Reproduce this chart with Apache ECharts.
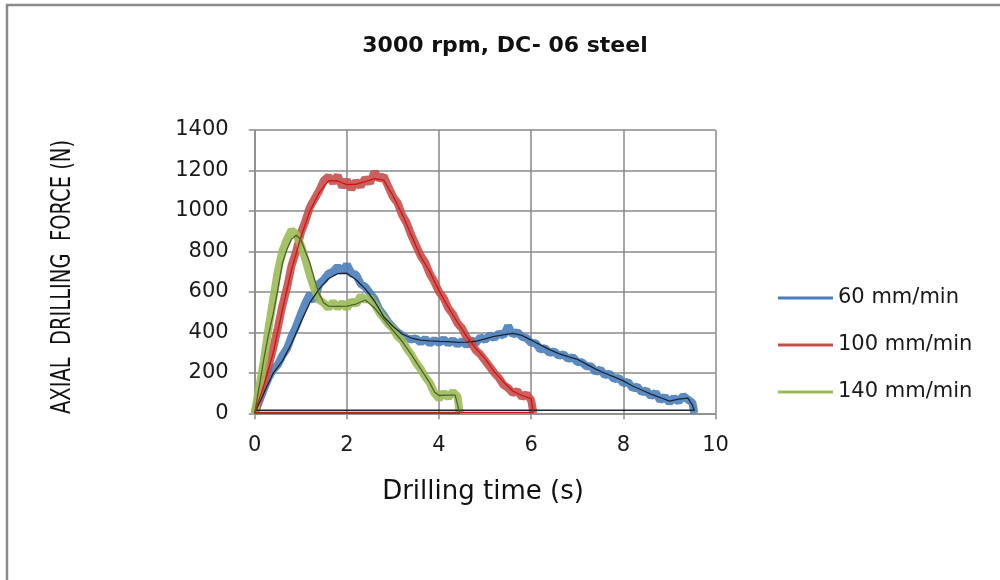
<!DOCTYPE html>
<html>
<head>
<meta charset="utf-8">
<script src="https://cdn.jsdelivr.net/npm/echarts@6/dist/echarts.min.js"></script>
<style>
  html, body { margin: 0; padding: 0; background: #fff; }
  #chart { width: 1000px; height: 580px; }
</style>
</head>
<body>
<div id="chart"></div>
<script>
// Axial drilling force vs. time, 3000 rpm, DC-06 steel, three feed rates.
const chartTitle = '3000 rpm, DC- 06 steel';
const xTitle = 'Drilling time (s)';
const yTitle = 'AXIAL  DRILLING  FORCE (N)';
const seriesNames = ['60 mm/min', '100 mm/min', '140 mm/min'];
const xTicks = [0, 2, 4, 6, 8, 10];
const yTicks = [0, 200, 400, 600, 800, 1000, 1200, 1400];

// Measured force signal [time s, force N]
const raw60 = [[0,0],[0.1,60],[0.2,120],[0.3,175],[0.4,215],[0.5,240],[0.6,285],[0.7,320],[0.8,380],[0.9,430],
  [1.0,490],[1.1,545],[1.2,590],[1.3,555],[1.4,640],[1.5,660],[1.6,690],[1.7,700],[1.8,725],[1.9,700],
  [2.0,735],[2.1,690],[2.2,685],[2.3,640],[2.4,625],[2.5,595],[2.6,565],[2.7,515],[2.8,485],[2.9,450],
  [3.0,425],[3.1,400],[3.2,385],[3.3,370],[3.4,365],[3.5,370],[3.6,350],[3.7,368],[3.8,345],[3.9,362],
  [4.0,348],[4.1,366],[4.2,344],[4.3,362],[4.4,340],[4.5,358],[4.6,336],[4.7,362],[4.8,348],[4.9,376],
  [5.0,362],[5.1,386],[5.2,372],[5.3,396],[5.4,384],[5.5,432],[5.6,388],[5.7,402],[5.8,378],[5.9,372],
  [6.0,348],[6.1,346],[6.2,314],[6.3,322],[6.4,298],[6.5,306],[6.6,284],[6.7,292],[6.8,268],[6.9,278],
  [7.0,254],[7.1,252],[7.2,232],[7.3,232],[7.4,204],[7.5,216],[7.6,188],[7.7,196],[7.8,168],[7.9,176],
  [8.0,148],[8.1,156],[8.2,124],[8.3,132],[8.4,104],[8.5,112],[8.6,84],[8.7,102],[8.8,64],[8.9,82],
  [9.0,54],[9.1,76],[9.2,58],[9.3,86],[9.4,68],[9.5,52],[9.54,0]];
const raw100 = [[0,0],[0.1,80],[0.2,150],[0.3,230],[0.4,320],[0.5,420],[0.6,530],[0.7,620],[0.8,730],[0.9,800],
  [1.0,890],[1.1,950],[1.2,1020],[1.3,1060],[1.4,1100],[1.5,1150],[1.6,1170],[1.7,1140],[1.8,1175],[1.9,1118],
  [2.0,1152],[2.1,1108],[2.2,1146],[2.3,1122],[2.4,1162],[2.5,1138],[2.6,1192],[2.7,1158],[2.8,1172],[2.9,1120],
  [3.0,1070],[3.1,1040],[3.2,980],[3.3,940],[3.4,880],[3.5,830],[3.6,780],[3.7,745],[3.8,690],[3.9,650],
  [4.0,600],[4.1,570],[4.2,520],[4.3,490],[4.4,445],[4.5,420],[4.6,375],[4.7,350],[4.8,310],[4.9,290],
  [5.0,260],[5.1,230],[5.2,200],[5.3,175],[5.4,140],[5.5,125],[5.6,100],[5.7,110],[5.8,80],[5.9,95],
  [6.0,65],[6.05,0]];
const raw140 = [[0,0],[0.1,130],[0.2,260],[0.3,420],[0.4,560],[0.5,700],[0.6,800],[0.7,860],[0.8,905],[0.9,885],
  [1.0,830],[1.1,760],[1.2,680],[1.3,610],[1.4,560],[1.5,545],[1.6,520],[1.7,550],[1.8,522],[1.9,546],
  [2.0,520],[2.1,556],[2.2,538],[2.3,580],[2.4,560],[2.5,572],[2.6,540],[2.7,500],[2.8,470],[2.9,440],
  [3.0,420],[3.1,380],[3.2,360],[3.3,320],[3.4,290],[3.5,250],[3.6,220],[3.7,180],[3.8,150],[3.9,100],
  [4.0,72],[4.1,102],[4.2,78],[4.3,106],[4.4,84],[4.45,0]];

// Moving-average trend of each signal; the last point returns to t = 0
const avg60 = [[0,0],[0.2,100],[0.4,198],[0.6,258],[0.8,345],[1.0,450],[1.2,548],[1.4,615],[1.6,665],[1.8,690],
  [2.0,692],[2.2,660],[2.4,615],[2.6,555],[2.8,477],[3.0,430],[3.2,392],[3.4,372],[3.6,362],[3.8,358],
  [4.0,355],[4.2,354],[4.4,350],[4.6,352],[4.8,356],[5.0,368],[5.2,380],[5.4,388],[5.6,395],[5.8,385],
  [6.0,362],[6.2,338],[6.4,315],[6.6,295],[6.8,280],[7.0,267],[7.2,243],[7.4,218],[7.6,198],[7.8,180],
  [8.0,160],[8.2,135],[8.4,115],[8.6,95],[8.8,78],[9.0,60],[9.2,70],[9.4,75],[9.5,40],[9.54,15],[0,15]];
const avg100 = [[0,0],[0.2,140],[0.4,296],[0.6,510],[0.8,710],[1.0,870],[1.2,1000],[1.4,1090],[1.6,1150],[1.8,1148],
  [2.0,1130],[2.2,1132],[2.4,1145],[2.6,1160],[2.8,1152],[3.0,1075],[3.2,985],[3.4,880],[3.6,775],[3.8,700],
  [4.0,605],[4.2,525],[4.4,450],[4.6,380],[4.8,320],[5.0,270],[5.2,205],[5.4,155],[5.6,110],[5.8,88],
  [6.0,72],[6.05,5],[0,5]];
const avg140 = [[0,0],[0.2,270],[0.3,390],[0.4,490],[0.5,610],[0.6,740],[0.7,810],[0.8,860],[0.9,880],[1.0,860],
  [1.1,800],[1.2,740],[1.3,660],[1.4,590],[1.5,545],[1.6,530],[1.8,528],[2.0,530],[2.2,540],[2.4,560],
  [2.6,520],[2.8,465],[3.0,410],[3.2,355],[3.4,290],[3.6,220],[3.8,150],[3.9,105],[4.0,88],[4.2,90],
  [4.35,90],[4.45,0],[0,0]];

const rawColors = ['#4A7EBB', '#C4504D', '#9BBB59'];
const avgColors = ['#1B2433', '#D80F0F', '#4F6228'];
const gridColor = '#8A8A8A';
const font = 'DejaVu Sans';

const chart = echarts.init(document.getElementById('chart'), null, { renderer: 'canvas' });

function rawSeries(name, data, color) {
  return {
    name: name, type: 'line', data: data, showSymbol: false, symbol: 'none',
    lineStyle: { color: color, width: 8, opacity: 0.9, join: 'bevel' },
    itemStyle: { color: color }, animation: false, silent: true
  };
}
function avgSeries(name, data, color) {
  return {
    name: name, type: 'line', data: data, showSymbol: false, symbol: 'none',
    lineStyle: { color: color, width: 1.3 }, itemStyle: { color: color },
    animation: false, silent: true, z: 3
  };
}

chart.setOption({
  backgroundColor: '#ffffff',
  animation: false,
  textStyle: { fontFamily: font },
  grid: { left: 254.7, right: 284.5, top: 130, bottom: 166.7, containLabel: false },
  legend: {
    data: seriesNames.map((n, i) => ({ name: n, icon: 'rect', itemStyle: { color: rawColors[i] } })),
    orient: 'vertical', left: 773, top: 281,
    itemWidth: 55, itemHeight: 3, itemGap: 23,
    textStyle: { fontFamily: font, fontSize: 21, color: '#1a1a1a', lineHeight: 24 },
    selectedMode: false
  },
  xAxis: {
    type: 'value', min: xTicks[0], max: xTicks[xTicks.length - 1], interval: 2,
    axisLine: { show: true, onZero: false, lineStyle: { color: gridColor, width: 1.5 } },
    axisTick: { show: true, inside: false, length: 6, lineStyle: { color: gridColor, width: 1.5 } },
    axisLabel: { fontFamily: font, fontSize: 21, color: '#1a1a1a', margin: 22,
                 formatter: v => String(v) },
    splitLine: { show: true, lineStyle: { color: gridColor, width: 1.5 } }
  },
  yAxis: {
    type: 'value', min: yTicks[0], max: yTicks[yTicks.length - 1], interval: 200,
    axisLine: { show: true, lineStyle: { color: gridColor, width: 1.5 } },
    axisTick: { show: true, inside: false, length: 6, lineStyle: { color: gridColor, width: 1.5 } },
    axisLabel: { fontFamily: font, fontSize: 21, color: '#1a1a1a', margin: 26,
                 formatter: v => String(v) },
    splitLine: { show: true, lineStyle: { color: gridColor, width: 1.5 } }
  },
  series: [
    rawSeries(seriesNames[0], raw60, rawColors[0]),
    rawSeries(seriesNames[1], raw100, rawColors[1]),
    rawSeries(seriesNames[2], raw140, rawColors[2]),
    avgSeries('trend 60', avg60, avgColors[0]),
    avgSeries('trend 100', avg100, avgColors[1]),
    avgSeries('trend 140', avg140, avgColors[2])
  ],
  graphic: [
    {
      type: 'rect', silent: true, z: 0,
      shape: { x: 7, y: 5, width: 1200, height: 800 },
      style: { fill: 'none', stroke: '#8A8A8A', lineWidth: 2.5 }
    },
    {
      type: 'text', silent: true, x: 505, y: 46,
      style: { text: chartTitle, font: 'bold 22px "DejaVu Sans"', fill: '#111',
               textAlign: 'center', textVerticalAlign: 'middle' }
    },
    {
      type: 'text', silent: true, x: 483, y: 492,
      style: { text: xTitle, font: '26px "DejaVu Sans"', fill: '#111',
               textAlign: 'center', textVerticalAlign: 'middle' }
    },
    {
      type: 'text', silent: true, x: 63, y: 277, rotation: Math.PI / 2,
      scaleX: 0.75, scaleY: 1,
      style: { text: yTitle, font: '26px "DejaVu Sans"', fill: '#111',
               textAlign: 'center', textVerticalAlign: 'middle' }
    }
  ]
});
</script>
</body>
</html>
